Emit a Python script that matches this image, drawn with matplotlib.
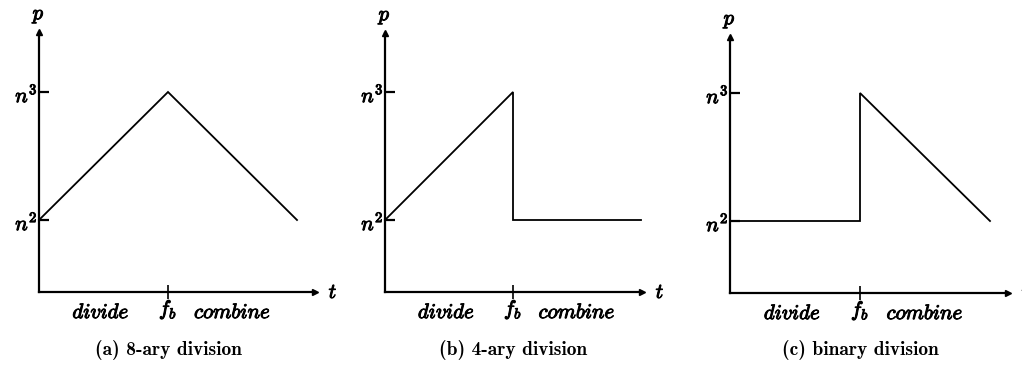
import matplotlib.pyplot as plt
import matplotlib.patheffects as pe

plt.rcParams["mathtext.fontset"] = "cm"

# processor count levels (p axis) and the shape of each schedule over time
N2, N3 = 0.36, 1.0
t_8ary = [0, 1, 2]
p_8ary = [N2, N3, N2]
t_4ary = [0, 1, 1, 2]
p_4ary = [N2, N3, N2, N2]
t_binary = [0, 1, 1, 2]
p_binary = [N2, N2, N3, N2]
captions = ["(a) 8-ary division", "(b) 4-ary division", "(c) binary division"]

W, H = 1022, 367
fig = plt.figure(figsize=(W / 100, H / 100), dpi=100)

# origin x, origin y, px per time unit, arrow tip x, top of p axis (pixels)
frames = [(39, 292, 129, 315, 32), (385, 292, 128, 642, 33), (730, 293, 130, 1008, 37)]
UNIT_P = 200
curves = [(t_8ary, p_8ary), (t_4ary, p_4ary), (t_binary, p_binary)]

# thicken the thin CM glyphs a little
heavy = [pe.withStroke(linewidth=0.7, foreground="black")]

for (x0, y0, ux, tip, top), (t, p), cap in zip(frames, curves, captions):
    ax = fig.add_axes([x0 / W, 1 - y0 / H, (tip - x0) / W, (y0 - top) / H])
    ax.set_xlim(0, (tip - x0) / ux)
    ax.set_ylim(0, (y0 - top) / UNIT_P)
    ax.patch.set_visible(False)
    ax.plot(t, p, color="black", lw=1.3, solid_joinstyle="miter", clip_on=False)

    for side in ["top", "right"]:
        ax.spines[side].set_visible(False)
    for side in ["left", "bottom"]:
        ax.spines[side].set_linewidth(1.6)

    # arrow heads on the axes
    ax.plot(1, 0, ">k", ms=5, transform=ax.get_yaxis_transform(), clip_on=False)
    ax.plot(0, 1, "^k", ms=5, transform=ax.get_xaxis_transform(), clip_on=False)

    ax.set_yticks([N2, N3], [r"$n^2$", r"$n^3$"])
    ax.tick_params(axis="y", direction="in", length=7, width=1.6, labelsize=15, pad=1)
    ax.set_xticks([1], [r"$f_b$"])
    ax.tick_params(axis="x", direction="inout", length=10, width=1.2, labelsize=15, pad=0)
    for lbl in ax.get_xticklabels() + ax.get_yticklabels():
        lbl.set_path_effects(heavy)

    ax.annotate(r"$\mathit{divide}$", xy=(0.48, 0), xycoords=("data", "axes fraction"),
                xytext=(0, -14.5), textcoords="offset points",
                ha="center", va="center", fontsize=15, path_effects=heavy)
    ax.annotate(r"$\mathit{combine}$", xy=(1.5, 0), xycoords=("data", "axes fraction"),
                xytext=(0, -14.5), textcoords="offset points",
                ha="center", va="center", fontsize=15, path_effects=heavy)
    ax.annotate(r"$p$", xy=(0, 1), xycoords="axes fraction", xytext=(0, 12),
                textcoords="offset points", ha="center", va="center", fontsize=15,
                path_effects=heavy)
    ax.annotate(r"$t$", xy=(1, 0), xycoords="axes fraction", xytext=(13, 0),
                textcoords="offset points", ha="center", va="center", fontsize=15,
                path_effects=heavy)

    cx = x0 + ux
    fig.text(cx / W, 1 - 350 / H, cap, ha="center", va="center",
             family="cmb10", fontsize=14)

fig.savefig("out.png", dpi=100)
